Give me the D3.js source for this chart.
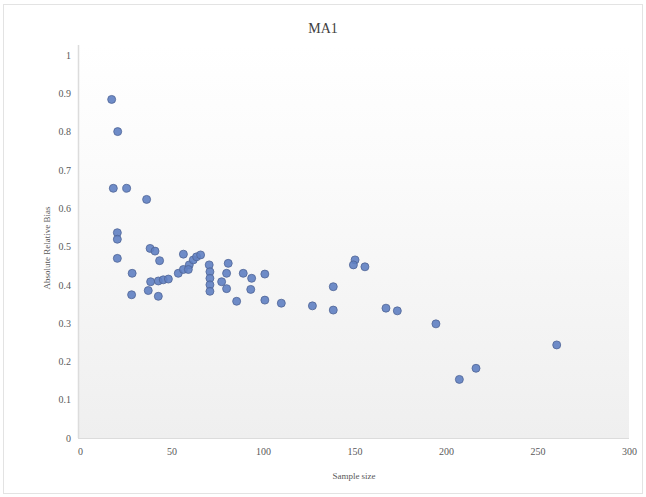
<!DOCTYPE html>
<html><head><meta charset="utf-8">
<script src="https://cdn.jsdelivr.net/npm/d3@7"></script>
<style>body{margin:0;background:#fff}svg{display:block}</style>
</head><body>
<svg id="c" width="646" height="497"></svg>
<script>
const title = "MA1";
const xLabel = "Sample size";
const yLabel = "Absolute Relative Bias";
const xTicks = [0, 50, 100, 150, 200, 250, 300];
const yTicks = [0, 0.1, 0.2, 0.3, 0.4, 0.5, 0.6, 0.7, 0.8, 0.9, 1];
const sampleSize = [17.3, 20.6, 18.2, 25.5, 36.4, 20.4, 20.4, 20.4, 38.3, 41, 43.5, 28.5, 28.2,
  56.5, 38.6, 42.8, 45.5, 48.3, 37.3, 42.8, 53.7, 56.5, 59.7, 61.9, 63.7, 65.9, 59.2,
  70.6, 71, 71, 71, 71, 81, 80.1, 77.4, 80.1, 85.6, 89.2, 93.8, 93.3, 101, 101, 110,
  127, 138.4, 138.4, 150.3, 149.4, 155.7, 167.2, 173.4, 194.5, 207.3, 216.4, 260.5];
const bias = [0.884, 0.80, 0.652, 0.652, 0.623, 0.536, 0.519, 0.469, 0.495, 0.488, 0.463, 0.43, 0.374,
  0.48, 0.408, 0.41, 0.413, 0.415, 0.385, 0.37, 0.43, 0.44, 0.452, 0.465, 0.473, 0.478, 0.44,
  0.452, 0.434, 0.417, 0.40, 0.383, 0.456, 0.43, 0.408, 0.39, 0.357, 0.43, 0.417, 0.388, 0.428, 0.36, 0.352,
  0.345, 0.395, 0.334, 0.465, 0.452, 0.447, 0.339, 0.332, 0.298, 0.153, 0.182, 0.243];

const svg = d3.select("#c");
const L = 80, R = 629, T = 55, B = 438;
const x = d3.scaleLinear().domain([0, 300]).range([L, R]);
const y = d3.scaleLinear().domain([0, 1]).range([B, T]);

svg.append("rect").attr("x", 3.5).attr("y", 4.5).attr("width", 639).attr("height", 489)
  .attr("fill", "#fff").attr("stroke", "#e3e3e3");

const defs = svg.append("defs");
const g = defs.append("linearGradient").attr("id", "bg").attr("x1", 0).attr("y1", 0).attr("x2", 0).attr("y2", 1);
g.append("stop").attr("offset", "0%").attr("stop-color", "#ffffff");
g.append("stop").attr("offset", "30%").attr("stop-color", "#fbfbfb");
g.append("stop").attr("offset", "100%").attr("stop-color", "#efefef");

svg.append("rect").attr("x", L - 2).attr("y", T - 10).attr("width", R - L + 2).attr("height", B - T + 10)
  .attr("fill", "url(#bg)");
svg.append("line").attr("x1", L - 1.5).attr("x2", L - 1.5).attr("y1", T - 10).attr("y2", B)
  .attr("stroke", "#dcdcdc").attr("stroke-width", 1.5);
svg.append("line").attr("x1", L - 2).attr("x2", R).attr("y1", B + 0.5).attr("y2", B + 0.5)
  .attr("stroke", "#dcdcdc").attr("stroke-width", 1);

const font = "'Liberation Serif', 'DejaVu Serif', serif";

const yAxis = svg.append("g").attr("transform", `translate(${L - 9},0)`)
  .call(d3.axisLeft(y).tickValues(yTicks).tickSize(0).tickPadding(0).tickFormat(d => d === 0 ? "0" : d === 1 ? "1" : d3.format(".1f")(d)));
yAxis.select(".domain").remove();
yAxis.selectAll("text").attr("font-family", font).attr("font-size", 10).attr("fill", "#595959");

const xAxis = svg.append("g").attr("transform", `translate(0,${B + 10})`)
  .call(d3.axisBottom(x).tickValues(xTicks).tickSize(0).tickPadding(0));
xAxis.select(".domain").remove();
xAxis.selectAll("text").attr("font-family", font).attr("font-size", 10).attr("fill", "#595959");

svg.append("text").attr("x", 323).attr("y", 33).attr("text-anchor", "middle")
  .attr("font-family", font).attr("font-size", 14).attr("fill", "#404040").text(title);
svg.append("text").attr("x", 354).attr("y", 479).attr("text-anchor", "middle")
  .attr("font-family", font).attr("font-size", 9).attr("fill", "#595959").text(xLabel);
svg.append("text").attr("transform", "translate(50,248) rotate(-90)").attr("text-anchor", "middle")
  .attr("font-family", font).attr("font-size", 9).attr("fill", "#595959").text(yLabel);

svg.append("g").selectAll("circle").data(sampleSize.map((s, i) => [s, bias[i]])).join("circle")
  .attr("cx", d => x(d[0])).attr("cy", d => y(d[1])).attr("r", 4)
  .attr("fill", "#5f7fc2").attr("fill-opacity", 0.9).attr("stroke", "#4f6596").attr("stroke-width", 0.8);
</script>
</body></html>
